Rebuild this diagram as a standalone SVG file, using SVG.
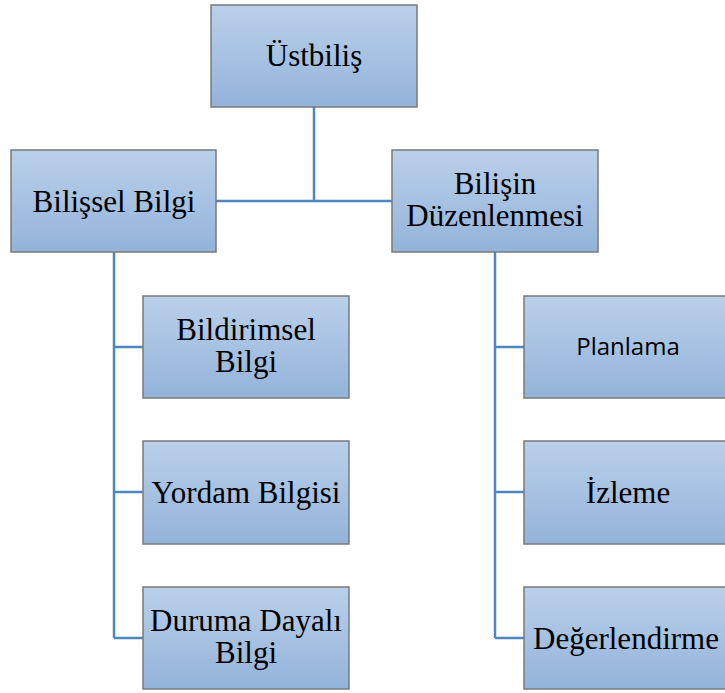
<svg xmlns="http://www.w3.org/2000/svg" width="725" height="693" viewBox="0 0 725 693">
<defs>
<linearGradient id="g" x1="0" y1="0" x2="0" y2="1">
<stop offset="0" stop-color="#bad0ea"/>
<stop offset="1" stop-color="#93b3da"/>
</linearGradient>
<style>
.box{fill:url(#g);stroke:#7a7a7a;stroke-width:1.5}
.t{font-family:"Liberation Serif","Times New Roman",serif;font-size:31px;fill:#000;text-anchor:middle}
.s{font-family:"Open Sans","Liberation Sans",Arial,sans-serif;font-size:24px;fill:#000;text-anchor:middle}
.c{fill:none;stroke:#4f86c0;stroke-width:2.5}
</style>
</defs>
<rect width="725" height="693" fill="#fff"/>
<g id="connectors">
<path class="c" d="M314 107V201M216 201H392"/>
<path class="c" d="M114 252V638M114 347H143M114 492H143M114 638H143"/>
<path class="c" d="M495 252V638M495 347H524M495 492H524M495 638H524"/>
</g>
<g id="ustbilis"><rect class="box" x="211" y="5" width="206" height="102"/><text class="t" x="314" y="66">Üstbiliş</text></g>
<g id="bilissel"><rect class="box" x="11" y="150" width="205" height="102"/><text class="t" x="114" y="212">Bilişsel Bilgi</text></g>
<g id="bilisin"><rect class="box" x="392" y="150" width="206" height="102"/><text class="t" x="495" y="194">Bilişin</text><text class="t" x="495" y="226">Düzenlenmesi</text></g>
<g id="bildirimsel"><rect class="box" x="143" y="296" width="206" height="102"/><text class="t" x="246" y="340">Bildirimsel</text><text class="t" x="246" y="372">Bilgi</text></g>
<g id="yordam"><rect class="box" x="143" y="441" width="206" height="103"/><text class="t" x="246" y="503">Yordam Bilgisi</text></g>
<g id="duruma"><rect class="box" x="143" y="587" width="206" height="102"/><text class="t" x="246" y="631">Duruma Dayalı</text><text class="t" x="246" y="663">Bilgi</text></g>
<g id="planlama"><rect class="box" x="524" y="296" width="206" height="102"/><text class="s" x="628" y="355">Planlama</text></g>
<g id="izleme"><rect class="box" x="524" y="441" width="206" height="103"/><text class="t" x="628" y="503">İzleme</text></g>
<g id="degerlendirme"><rect class="box" x="524" y="587" width="206" height="102"/><text class="t" x="626" y="649">Değerlendirme</text></g>
</svg>
